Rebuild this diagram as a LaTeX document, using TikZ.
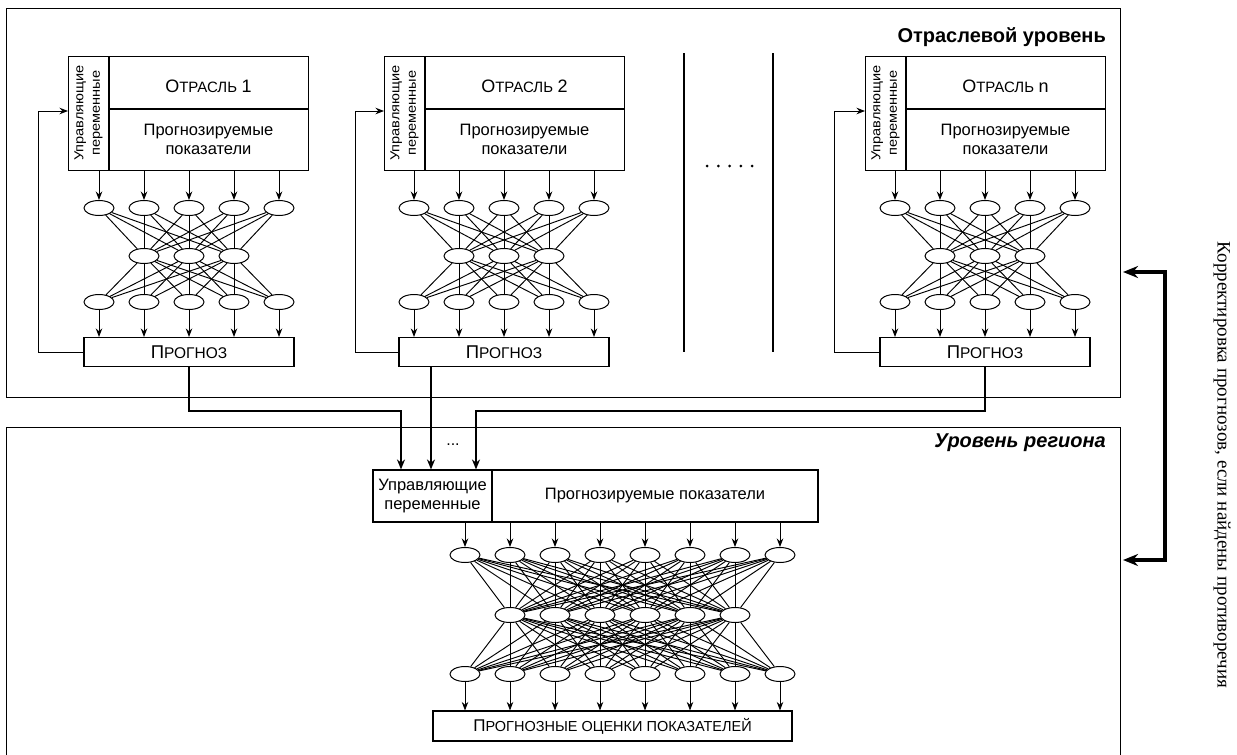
\documentclass[tikz,border=0pt]{standalone}
\usepackage{fontspec}
\setmainfont{Liberation Sans}
\newfontfamily\serifcyr{Liberation Serif}
\newfontfamily\stripfont[FakeStretch=1.12]{Liberation Sans}
\usetikzlibrary{arrows.meta,shapes.geometric}

\newcommand\fsmain{\fontsize{16.5}{19}\selectfont}
\newcommand\fsstrip{\stripfont\fontsize{13}{16.5}\selectfont}
\newcommand\fslabel{\fontsize{20}{22}\selectfont}
\newcommand\OtrLab[1]{{\fontsize{18}{20}\selectfont О}{\fontsize{15}{17}\selectfont ТРАСЛЬ} {\fontsize{18}{20}\selectfont #1}}
\newcommand\PrgLab{{\fontsize{18.5}{20}\selectfont П}{\fontsize{15.5}{17}\selectfont РОГНОЗ}}

\tikzset{
  every node/.style={font=\fsmain, inner sep=0pt},
  box/.style={draw, line width=1.1pt},
  region/.style={draw, line width=0.9pt},
  oval/.style={draw, ellipse, line width=1pt, minimum width=30pt, minimum height=15pt, inner sep=0pt},
  arr/.style={line width=0.9pt, -{Stealth[length=8.5pt,width=6.5pt]}},
  link/.style={line width=0.95pt},
  tharr/.style={line width=2.8pt, -{Stealth[length=10pt,width=8pt]}},
  bigarr/.style={line width=3.5pt, {Stealth[length=15pt,width=12pt]}-{Stealth[length=15pt,width=12pt]}},
}

\begin{document}
\begin{tikzpicture}[x=1pt,y=-1pt]
\useasboundingbox (0,0) rectangle (1237,755);

% regions
\node[region, anchor=north west, minimum width=1114pt, minimum height=389pt] (topreg) at (6,8) {};
\node[region, anchor=north west, minimum width=1114pt, minimum height=345pt] (botreg) at (6,427) {};
\node[anchor=east, font=\fslabel\bfseries] (lab1) at (1106,37) {Отраслевой уровень};
\node[anchor=east, font=\fslabel\bfseries\itshape] (lab2) at (1106,443) {Уровень региона};

% branches
\foreach \bx/\sx/\nx/\lab/\fx/\id in {68/109/99/1/38/a, 384/425/414/2/355/b, 865/906/895/n/834/c}{
  \node[box, anchor=north west, minimum width=240pt, minimum height=114pt] (box\id) at (\bx,56) {};
  \draw[box] (\sx,56) -- (\sx,170);
  \draw[box] (\sx,109) -- (\bx+240,109);
  \node[rotate=90, align=center, font=\fsstrip] (str\id) at ({(\bx+\sx)/2},113) {Управляющие\\переменные};
  \node (ttl\id) at ({(\sx+\bx+240)/2},86) {\OtrLab{\lab}};
  \node[align=center] (ind\id) at ({(\sx+\bx+240)/2},139) {Прогнозируемые\\показатели};
  \foreach \k in {0,...,4}{
    \node[oval] (t\id\k) at (\nx+45*\k,208) {};
    \node[oval] (u\id\k) at (\nx+45*\k,302) {};
  }
  \foreach \k in {1,2,3}{
    \node[oval] (m\id\k) at (\nx+45*\k,256) {};
  }
  \node[box, minimum width=210pt, minimum height=29pt] (p\id) at (\nx+90,352) {\PrgLab};
  \foreach \k in {0,...,4}{
    \draw[arr] (t\id\k |- box\id.south) -- (t\id\k);
    \draw[arr] (u\id\k) -- (u\id\k |- p\id.north);
    \foreach \j in {1,2,3}{
      \draw[link] (t\id\k) -- (m\id\j);
      \draw[link] (m\id\j) -- (u\id\k);
    }
  }
  \coordinate (fc\id) at (\fx,111);
  \coordinate (fb\id) at (\bx,111);
  \draw[arr] (p\id.west) -| (fc\id) -- (fb\id);
}

% separators and dots
\coordinate (sep1a) at (684,53); \coordinate (sep1b) at (684,352);
\coordinate (sep2a) at (773,53); \coordinate (sep2b) at (773,352);
\draw[line width=1.3pt] (sep1a) -- (sep1b);
\draw[line width=1.3pt] (sep2a) -- (sep2b);
\foreach \i in {0,...,4} \fill (707+11.25*\i,166) circle (1.5pt);

% region level
\node[box, minimum width=119pt, minimum height=52pt, align=center] (uv) at (432.5,496) {Управляющие\\переменные};
\node[box, minimum width=326pt, minimum height=52pt] (pp) at (655,496) {Прогнозируемые показатели};
\node[font=\fontsize{16}{18}\selectfont] (dots) at (453,445) {...};
\foreach \k in {0,...,7}{
  \node[oval] (bt\k) at (465+45*\k,555) {};
  \node[oval] (bb\k) at (465+45*\k,674) {};
}
\foreach \k in {0,...,5}{
  \node[oval] (bm\k) at (510+45*\k,615) {};
}
\node[box, minimum width=359pt, minimum height=30pt] (fin) at (612.5,726)
  {{\fontsize{17}{19}\selectfont П}{\fontsize{14.5}{17}\selectfont РОГНОЗНЫЕ ОЦЕНКИ ПОКАЗАТЕЛЕЙ}};
\foreach \k in {0,...,7}{
  \draw[arr] (bt\k |- pp.south) -- (bt\k);
  \draw[arr] (bb\k) -- (bb\k |- fin.north);
  \foreach \j in {0,...,5}{
    \draw[link] (bt\k) -- (bm\j);
    \draw[link] (bm\j) -- (bb\k);
  }
}

% thick connectors
\coordinate (ja) at (401,411);
\coordinate (jb) at (431,411);
\coordinate (jc) at (476,411);
\draw[tharr] (pa.south) |- (ja) -- (ja |- uv.north);
\draw[tharr] (jb |- pb.south) -- (jb |- uv.north);
\draw[tharr] (pc.south) |- (jc) -- (jc |- uv.north);

% correction arrow
\coordinate (ra) at (1123,272);
\coordinate (rc) at (1165,560);
\coordinate (rd) at (1123,560);
\draw[bigarr] (ra) -| (rc) -- (rd);
\node[rotate=-90, font=\serifcyr\fontsize{19}{22}\selectfont] (side) at (1222,465) {Корректировка прогнозов, если найдены противоречия};
\end{tikzpicture}
\end{document}
